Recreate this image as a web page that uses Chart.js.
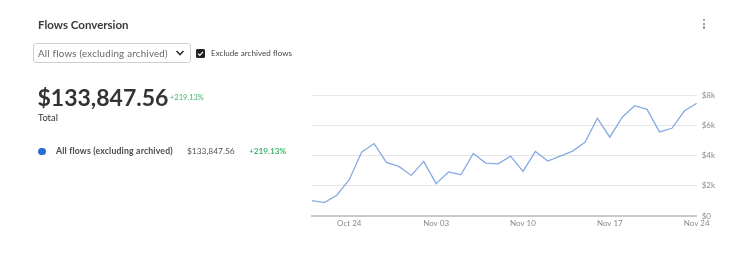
<!DOCTYPE html>
<html>
<head>
<meta charset="utf-8">
<script src="https://cdn.jsdelivr.net/npm/chart.js@4.4.0/dist/chart.umd.min.js"></script>
<style>
  html, body { margin: 0; padding: 0; background: #fff; }
  body { width: 744px; height: 264px; position: relative; overflow: hidden; font-family: Lato, "Noto Sans", sans-serif; color: #333; }
  .t { position: absolute; line-height: 1; white-space: nowrap; }
  #chartWrap { position: absolute; left: 0; top: 0; width: 744px; height: 264px; }
  .select { position: absolute; left: 33px; top: 43px; width: 156px; height: 18px; border: 1px solid #cfcfcf; border-radius: 3px; box-sizing: content-box; }
  .chk { position: absolute; left: 196px; top: 49px; width: 9px; height: 9px; background: #222; border-radius: 1.5px; }
  .dot { position: absolute; left: 38px; top: 147.5px; width: 7.6px; height: 7.6px; border-radius: 50%; background: #2c6cd6; }
  .kebab { position: absolute; left: 703px; top: 19px; width: 3px; }
  .kebab i { display: block; width: 2.4px; height: 2.4px; background: #888; border-radius: 50%; margin-bottom: 1.2px; }
</style>
</head>
<body>
<div id="chartWrap"><canvas id="c" width="744" height="264"></canvas></div>

<div class="t" style="left:38px; top:19px; font-size:11.5px; font-weight:700; color:#3a3a3a;">Flows Conversion</div>
<div class="kebab"><i></i><i></i><i></i></div>

<div class="select"></div>
<div class="t" style="left:38px; top:48.5px; font-size:9.7px; letter-spacing:0.25px; color:#666;">All flows (excluding archived)</div>
<svg style="position:absolute; left:175px; top:49px;" width="10" height="8" viewBox="0 0 10 8"><polyline points="1.5,2 5,5.5 8.5,2" fill="none" stroke="#333" stroke-width="1.6"/></svg>

<div class="chk"></div>
<svg style="position:absolute; left:196px; top:49px;" width="9" height="9" viewBox="0 0 9 9"><polyline points="2,4.6 3.8,6.3 7,2.8" fill="none" stroke="#fff" stroke-width="1.2"/></svg>
<div class="t" style="left:211px; top:49.2px; font-size:8px; letter-spacing:0.05px; color:#444;">Exclude archived flows</div>

<div class="t" style="left:37.5px; top:85.5px; font-size:23px; font-weight:700; color:#333;">$133,847.56</div>
<div class="t" style="left:170px; top:94.3px; font-size:7.5px; color:#3fb56a;">+219.13%</div>
<div class="t" style="left:38px; top:113.3px; font-size:9.4px; color:#333;">Total</div>

<div class="dot"></div>
<div class="t" style="left:56px; top:147px; font-size:8.7px; font-weight:700; letter-spacing:0.17px; color:#4a4a4a;">All flows (excluding archived)</div>
<div class="t" style="left:187px; top:147px; font-size:8.4px; color:#555;">$133,847.56</div>
<div class="t" style="left:249px; top:147px; font-size:8.2px; font-weight:700; color:#3fb56a;">+219.13%</div>

<script>
const categories = [
  "Oct 21","Oct 22","Oct 23","Oct 24","Oct 28","Oct 29","Oct 30","Oct 31","Nov 01","Nov 02",
  "Nov 03","Nov 04","Nov 05","Nov 06","Nov 07","Nov 08","Nov 09","Nov 10","Nov 11","Nov 12",
  "Nov 13","Nov 14","Nov 15","Nov 16","Nov 17","Nov 18","Nov 19","Nov 20","Nov 21","Nov 22",
  "Nov 23","Nov 24"
];
const flowValues = [
  1020, 890, 1370, 2400, 4220, 4790, 3540, 3280, 2680, 3610,
  2140, 2910, 2730, 4130, 3500, 3450, 3960, 2950, 4260, 3630,
  3960, 4290, 4880, 6460, 5210, 6530, 7290, 7050, 5560, 5800,
  6940, 7450
];
const shownXTicks = ["Oct 24", "Nov 03", "Nov 10", "Nov 17", "Nov 24"];
const yTickValues = [0, 2000, 4000, 6000, 8000];

const tickFont = { family: "Lato, 'Noto Sans', sans-serif", size: 8 };

new Chart(document.getElementById('c'), {
  type: 'line',
  data: {
    labels: categories,
    datasets: [{
      label: 'All flows (excluding archived)',
      data: flowValues,
      borderColor: '#86abe2',
      borderWidth: 1.3,
      pointRadius: 0,
      tension: 0,
      fill: false
    }]
  },
  options: {
    responsive: false,
    animation: false,
    layout: { padding: { left: 312, top: 95, right: 20, bottom: 18 } },
    plugins: { legend: { display: false }, tooltip: { enabled: false } },
    scales: {
      x: {
        offset: false,
        grid: { display: false, drawTicks: false },
        border: { display: true, color: '#c9c9c9', width: 2 },
        ticks: {
          autoSkip: false, maxRotation: 0, padding: 3, color: '#8a8a8a', font: tickFont,
          callback: function (v) { const l = categories[v]; return shownXTicks.includes(l) ? l : ''; }
        },
        afterFit: s => { s.height = 30; }
      },
      y: {
        position: 'right',
        min: 0, max: 8000,
        afterBuildTicks: s => { s.ticks = yTickValues.map(v => ({ value: v })); },
        grid: { color: '#e6e6e6', lineWidth: 1, drawTicks: false },
        border: { display: false },
        ticks: {
          padding: 5, color: '#8a8a8a', font: tickFont,
          callback: v => v === 0 ? '$0' : '$' + (v / 1000) + 'k'
        },
        afterFit: s => { s.width = 27.3; }
      }
    }
  }
});
</script>
</body>
</html>
